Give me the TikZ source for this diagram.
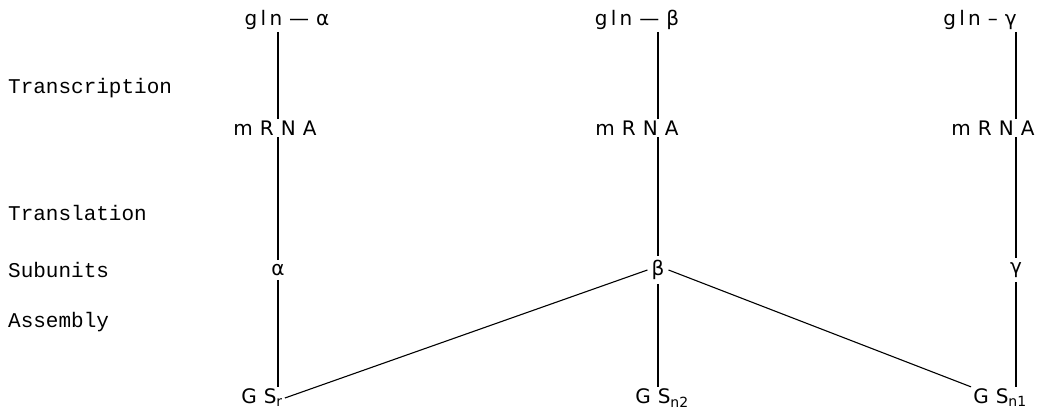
\documentclass[tikz,border=0pt]{standalone}
\usepackage{fontspec}
\setmainfont{DejaVu Sans}
\newfontfamily\stepfont{Liberation Mono}
\newfontfamily\genefont[LetterSpace=35]{DejaVu Sans}

\begin{document}
\begin{tikzpicture}[x=1pt,y=-1pt,
    gene/.style={font=\genefont\fontsize{20}{22}\selectfont, inner sep=2pt},
    stepname/.style={font=\stepfont\fontsize{21}{23}\selectfont, anchor=west, inner sep=0pt},
    link/.style={line width=1.1pt}]
    % Define the bounding box for the picture
    \useasboundingbox (0,0) rectangle (1053,418);

    % Add labels for each step
    \node[stepname] (tscr) at (8,88) {Transcription};
    \node[stepname] (tsl) at (8,213) {Translation};
    \node[stepname] (subs) at (8,270) {Subunits};
    \node[stepname] (asm) at (8,322) {Assembly};

    % Genes
    \node[gene] (glnA) at (287,20) {g\,l\,n—α};
    \node[gene] (glnB) at (637,20) {g\,l\,n—β};
    \node[gene] (glnC) at (980,20) {g\,l\,n–γ};

    % Messengers
    \node[gene] (mrnaA) at (275,128) {mRNA};
    \node[gene] (mrnaB) at (637,128) {mRNA};
    \node[gene] (mrnaC) at (993,128) {mRNA};

    % Subunits
    \node[gene, inner sep=4pt] (subA) at (278,270) {α};
    \node[gene, inner sep=4pt] (subB) at (658,270) {β};
    \node[gene, inner sep=4pt] (subC) at (1016,270) {γ};

    % Enzymes
    \node[gene] (gsA) at (262,398) {GS$_{\mathrm{r}}$};
    \node[gene] (gsB) at (662,398) {GS$_{\mathrm{n2}}$};
    \node[gene] (gsC) at (1000,398) {GS$_{\mathrm{n1}}$};

    % Draw the lines for each column
    \draw[link] (glnA.south -| subA) -- (mrnaA.north -| subA);
    \draw[link] (mrnaA.south -| subA) -- (subA.north);
    \draw[link] (subA.south) -- (gsA.north -| subA);
    \draw[link] (glnB.south -| subB) -- (mrnaB.north -| subB);
    \draw[link] (mrnaB.south -| subB) -- (subB.north);
    \draw[link] (subB.south) -- (gsB.north -| subB);
    \draw[link] (glnC.south -| subC) -- (mrnaC.north -| subC);
    \draw[link] (mrnaC.south -| subC) -- (subC.north);
    \draw[link] (subC.south) -- (gsC.north -| subC);

    % Optional: the shared subunit
    \draw[link] (subB.west) -- (gsA.east);
    \draw[link] (subB.east) -- (gsC);
\end{tikzpicture}
\end{document}
